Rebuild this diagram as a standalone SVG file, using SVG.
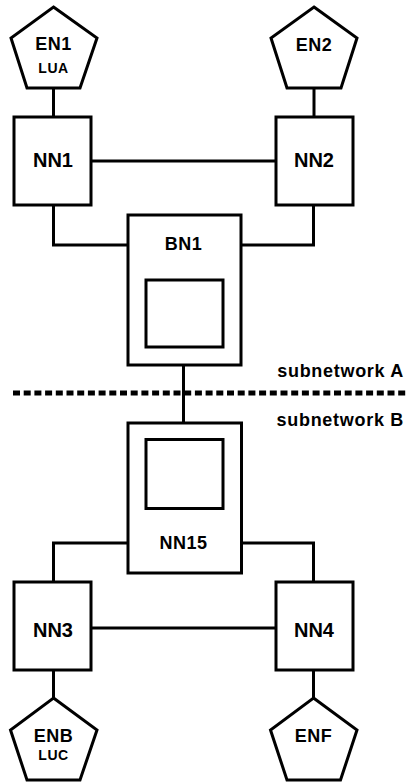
<svg xmlns="http://www.w3.org/2000/svg" width="406" height="782" viewBox="0 0 406 782">
<style>
.s{fill:#fff;stroke:#000;stroke-width:3}
.c{fill:none;stroke:#000;stroke-width:3}
.t{font-family:"Liberation Sans",Arial,Helvetica,sans-serif;font-weight:bold;fill:#000;text-anchor:middle}
.big{font-size:20px}
.mid{font-size:18px;letter-spacing:0.5px}
.sm{font-size:14px;letter-spacing:0.5px}
.lab{font-family:"Liberation Sans",Arial,Helvetica,sans-serif;font-weight:bold;font-size:18px;letter-spacing:0.7px;text-anchor:end;fill:#000}
</style>
<rect width="406" height="782" fill="#fff"/>
<g id="connectors">
<line class="c" x1="53.5" y1="88" x2="53.5" y2="117"/>
<line class="c" x1="314" y1="88" x2="314" y2="117"/>
<line class="c" x1="91" y1="161" x2="276" y2="161"/>
<polyline class="c" points="53.5,205 53.5,245 128,245"/>
<polyline class="c" points="241,245 313.5,245 313.5,205"/>
<line class="c" x1="183.5" y1="365" x2="183.5" y2="423"/>
<polyline class="c" points="128,543 53.5,543 53.5,582"/>
<polyline class="c" points="241.5,543 313.5,543 313.5,582"/>
<line class="c" x1="91" y1="628" x2="276" y2="628"/>
<line class="c" x1="53.5" y1="670" x2="53.5" y2="698"/>
<line class="c" x1="313.5" y1="670" x2="313.5" y2="698"/>
</g>
<g id="divider">
<line x1="13" y1="393" x2="406" y2="393" stroke="#000" stroke-width="5" stroke-dasharray="7 3.7"/>
<text class="lab" x="404" y="377">subnetwork A</text>
<text class="lab" x="404" y="425.5">subnetwork B</text>
</g>
<g id="EN1">
<polygon class="s" points="53.5,7 97,38 80,88 27,88 11,38"/>
<text class="t mid" x="53.5" y="50">EN1</text>
<text class="t sm" x="53.5" y="73">LUA</text>
</g>
<g id="EN2">
<polygon class="s" points="314,7 357,38 341,88 287,88 271,38"/>
<text class="t mid" x="314" y="51">EN2</text>
</g>
<g id="NN1">
<rect class="s" x="14" y="117" width="77" height="88"/>
<text class="t big" x="53" y="167">NN1</text>
</g>
<g id="NN2">
<rect class="s" x="276" y="117" width="77" height="88"/>
<text class="t big" x="314" y="166.5">NN2</text>
</g>
<g id="BN1">
<rect class="s" x="128" y="215" width="113" height="150"/>
<rect class="s" x="146" y="280" width="77" height="67"/>
<text class="t mid" x="183.5" y="250">BN1</text>
</g>
<g id="NN15">
<rect class="s" x="128" y="423" width="113.5" height="150"/>
<rect class="s" x="146" y="439.5" width="77" height="69"/>
<text class="t mid" x="183.5" y="549">NN15</text>
</g>
<g id="NN3">
<rect class="s" x="14" y="582" width="77" height="88"/>
<text class="t big" x="53" y="636.5">NN3</text>
</g>
<g id="NN4">
<rect class="s" x="276" y="582" width="77" height="88"/>
<text class="t big" x="314" y="636.5">NN4</text>
</g>
<g id="ENB">
<polygon class="s" points="53.5,698 97,730 80,780 27,780 10.5,730"/>
<text class="t mid" x="53.5" y="741.5">ENB</text>
<text class="t sm" x="53.5" y="760">LUC</text>
</g>
<g id="ENF">
<polygon class="s" points="313.5,698 357,730 340.5,780 287,780 270.5,730"/>
<text class="t mid" x="313.5" y="741.5">ENF</text>
</g>
</svg>
